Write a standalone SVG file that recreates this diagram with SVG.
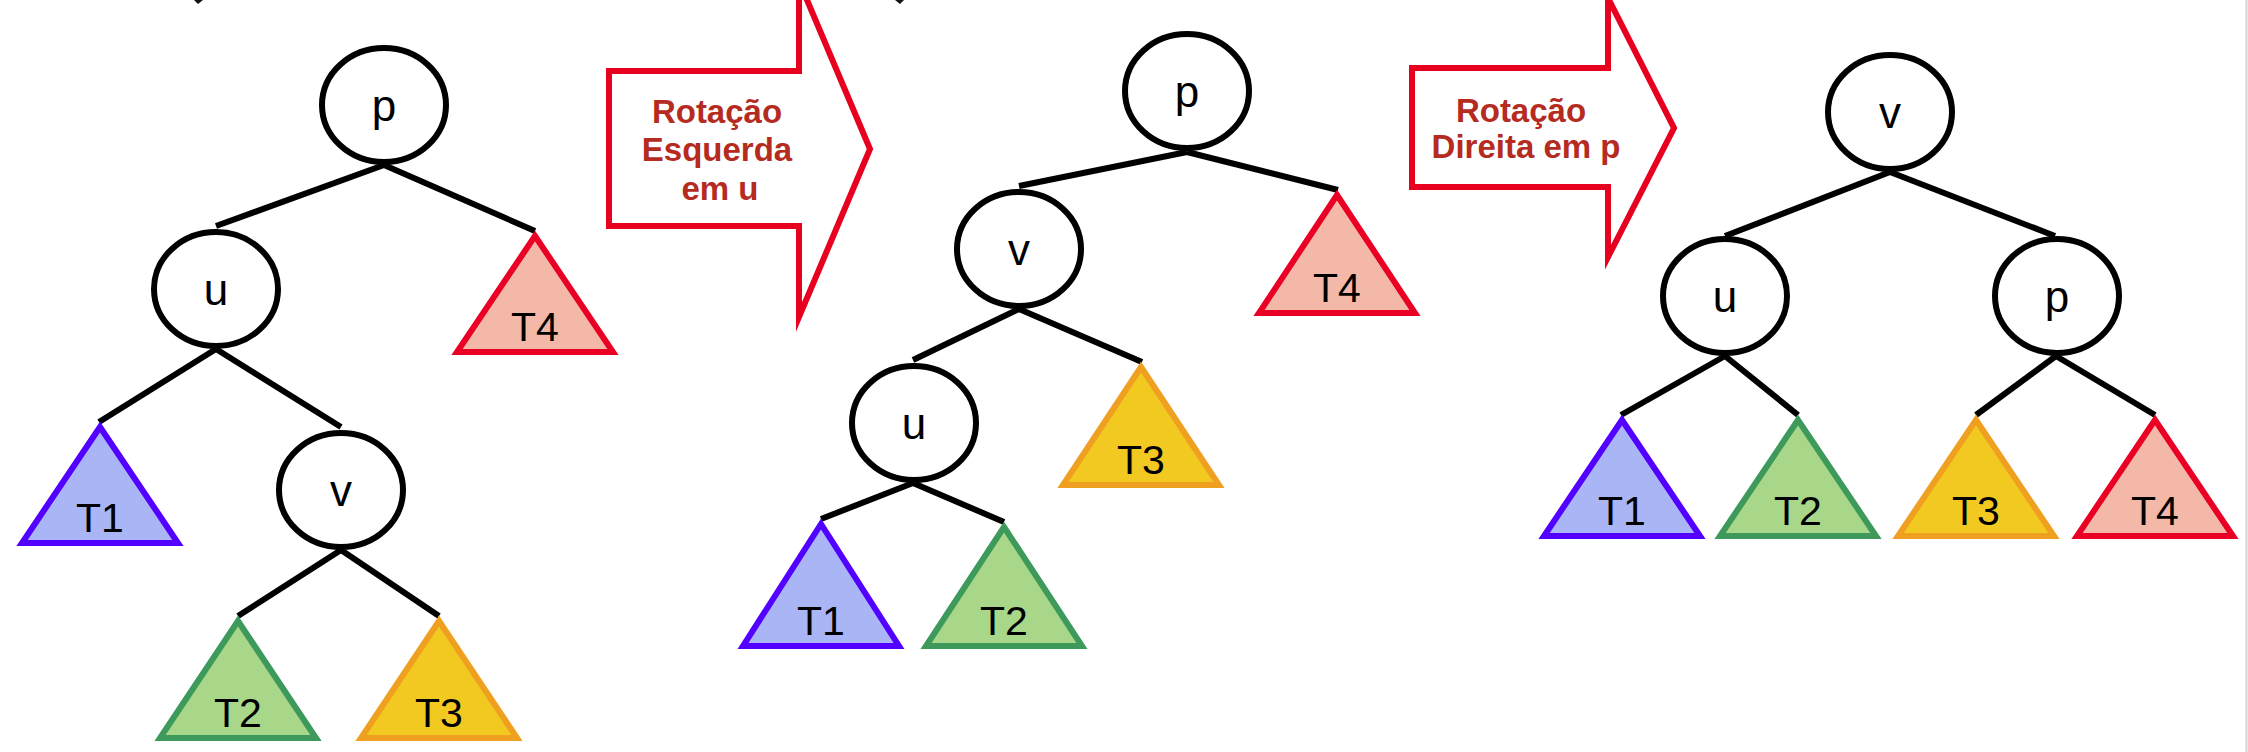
<svg xmlns="http://www.w3.org/2000/svg" width="2248" height="752" viewBox="0 0 2248 752">
<style>
.node{fill:#fff;stroke:#000;stroke-width:6}
.lbl{font-family:"Liberation Sans",Arial,sans-serif;font-size:44px;fill:#000;text-anchor:middle}
.tl{font-family:"Liberation Sans",Arial,sans-serif;font-size:41px;fill:#000;text-anchor:middle}
.edge{stroke:#000;stroke-width:6;fill:none}
.arrow{fill:#fff;stroke:#e8001f;stroke-width:6;stroke-miterlimit:10}
.atxt{font-family:"Liberation Sans",Arial,sans-serif;font-size:33px;font-weight:bold;fill:#b52b1f;text-anchor:middle}
.t1{fill:#a9b5f5;stroke:#5200ff;stroke-width:6}
.t2{fill:#a8d78a;stroke:#3d9a5b;stroke-width:6}
.t3{fill:#f1c920;stroke:#efa020;stroke-width:6}
.t4{fill:#f4b8a8;stroke:#ea0024;stroke-width:6}
</style>
<rect width="2248" height="752" fill="#fff"/>
<line x1="2246.5" y1="0" x2="2246.5" y2="752" stroke="#d4d4d4" stroke-width="2"/>
<path d="M194,0 L203,0 L198,4 Z" fill="#111"/>
<path d="M895,0 L904,0 L900,4 Z" fill="#111"/>

<g id="connectors">
<line class="edge" x1="384" y1="165" x2="216" y2="226"/>
<line class="edge" x1="384" y1="165" x2="535" y2="231"/>
<line class="edge" x1="216" y1="349" x2="99" y2="422"/>
<line class="edge" x1="216" y1="349" x2="341" y2="427"/>
<line class="edge" x1="341" y1="550" x2="238" y2="616"/>
<line class="edge" x1="341" y1="550" x2="439" y2="616"/>

<line class="edge" x1="1187" y1="152" x2="1019" y2="186"/>
<line class="edge" x1="1187" y1="152" x2="1338" y2="190"/>
<line class="edge" x1="1019" y1="309" x2="913" y2="360"/>
<line class="edge" x1="1019" y1="309" x2="1142" y2="362"/>
<line class="edge" x1="913" y1="483" x2="821" y2="519"/>
<line class="edge" x1="913" y1="483" x2="1004" y2="522"/>

<line class="edge" x1="1890" y1="172" x2="1725" y2="236"/>
<line class="edge" x1="1890" y1="172" x2="2055" y2="236"/>
<line class="edge" x1="1725" y1="356" x2="1621" y2="415"/>
<line class="edge" x1="1725" y1="356" x2="1798" y2="415"/>
<line class="edge" x1="2056" y1="356" x2="1976" y2="415"/>
<line class="edge" x1="2056" y1="356" x2="2155" y2="415"/>
</g>

<g id="arrow1">
<path class="arrow" d="M609,71 H799 V-19 L870,149 L799,317 V226 H609 Z"/>
<text class="atxt" x="717" y="123">Rotação</text>
<text class="atxt" x="717" y="161">Esquerda</text>
<text class="atxt" x="720" y="200">em u</text>
</g>
<g id="arrow2">
<path class="arrow" d="M1412,68 H1608 V-2 L1674,128 L1608,257 V187 H1412 Z"/>
<text class="atxt" x="1521" y="122">Rotação</text>
<text class="atxt" x="1526" y="158">Direita em p</text>
</g>

<!-- Tree 1 -->
<g id="t1-p"><ellipse class="node" cx="384" cy="105" rx="62" ry="57"/><text class="lbl" x="384" y="121">p</text></g>
<g id="t1-u"><ellipse class="node" cx="216" cy="289" rx="62" ry="57"/><text class="lbl" x="216" y="305">u</text></g>
<g id="t1-v"><ellipse class="node" cx="341" cy="490" rx="62" ry="57"/><text class="lbl" x="341" y="506">v</text></g>
<g id="t1-T1"><polygon class="t1" points="100,427 178,543 22,543"/><text class="tl" x="100" y="532">T1</text></g>
<g id="t1-T4"><polygon class="t4" points="535,236 613,352 457,352"/><text class="tl" x="535" y="341">T4</text></g>
<g id="t1-T2"><polygon class="t2" points="238,621 316,738 160,738"/><text class="tl" x="238" y="727">T2</text></g>
<g id="t1-T3"><polygon class="t3" points="439,621 517,738 361,738"/><text class="tl" x="439" y="727">T3</text></g>

<!-- Tree 2 -->
<g id="t2-p"><ellipse class="node" cx="1187" cy="91" rx="62" ry="57"/><text class="lbl" x="1187" y="107">p</text></g>
<g id="t2-v"><ellipse class="node" cx="1019" cy="249" rx="62" ry="57"/><text class="lbl" x="1019" y="265">v</text></g>
<g id="t2-u"><ellipse class="node" cx="914" cy="423" rx="62" ry="57"/><text class="lbl" x="914" y="439">u</text></g>
<g id="t2-T4"><polygon class="t4" points="1337,195 1415,313 1259,313"/><text class="tl" x="1337" y="302">T4</text></g>
<g id="t2-T3"><polygon class="t3" points="1141,367 1219,485 1063,485"/><text class="tl" x="1141" y="474">T3</text></g>
<g id="t2-T1"><polygon class="t1" points="821,524 899,646 743,646"/><text class="tl" x="821" y="635">T1</text></g>
<g id="t2-T2"><polygon class="t2" points="1004,527 1082,646 926,646"/><text class="tl" x="1004" y="635">T2</text></g>

<!-- Tree 3 -->
<g id="t3-v"><ellipse class="node" cx="1890" cy="112" rx="62" ry="57"/><text class="lbl" x="1890" y="128">v</text></g>
<g id="t3-u"><ellipse class="node" cx="1725" cy="296" rx="62" ry="57"/><text class="lbl" x="1725" y="312">u</text></g>
<g id="t3-p"><ellipse class="node" cx="2057" cy="296" rx="62" ry="57"/><text class="lbl" x="2057" y="312">p</text></g>
<g id="t3-T1"><polygon class="t1" points="1622,420 1700,536 1544,536"/><text class="tl" x="1622" y="525">T1</text></g>
<g id="t3-T2"><polygon class="t2" points="1798,420 1876,536 1720,536"/><text class="tl" x="1798" y="525">T2</text></g>
<g id="t3-T3"><polygon class="t3" points="1976,420 2054,536 1898,536"/><text class="tl" x="1976" y="525">T3</text></g>
<g id="t3-T4"><polygon class="t4" points="2155,420 2233,536 2077,536"/><text class="tl" x="2155" y="525">T4</text></g>
</svg>
